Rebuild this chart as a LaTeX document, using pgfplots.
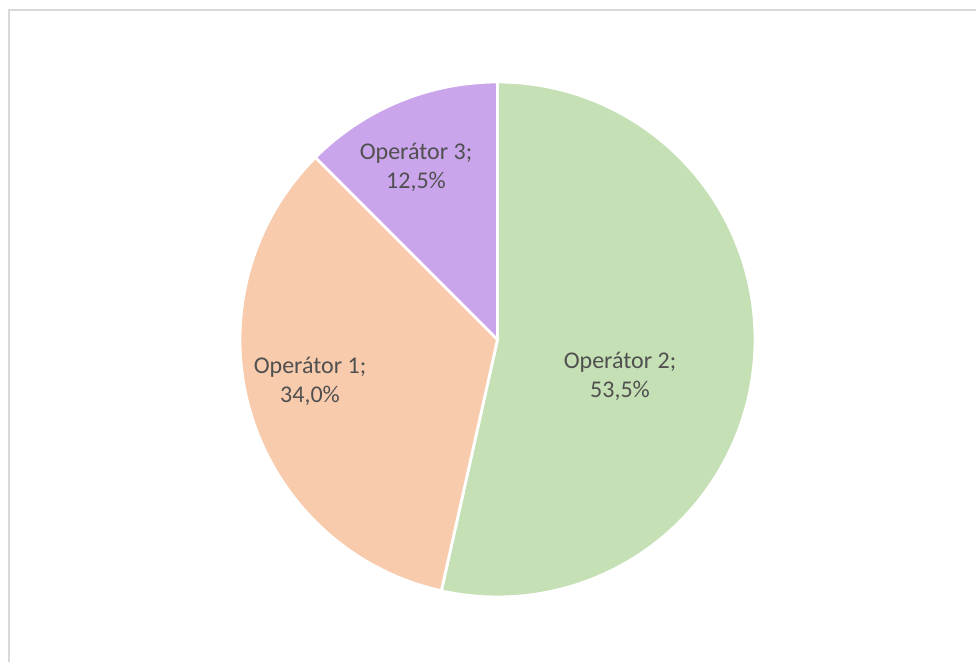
\documentclass[border=0pt]{standalone}
\usepackage{fontspec}
\setmainfont{Carlito}
\usepackage{pgfplots}
\usepackage{pgfplotstable}
\pgfplotsset{compat=1.18}

\definecolor{op2}{HTML}{C5E0B4}
\definecolor{op1}{HTML}{F8CBAD}
\definecolor{op3}{HTML}{CBA5EC}
\definecolor{lbl}{HTML}{505050}
\definecolor{frame}{HTML}{D9D9D9}

% share in percent, label position (pixel grid, y up)
\pgfplotstableread{
name value lx ly
2 53.5 620 285
1 34.0 310 280
3 12.5 416 494
}\piedata

\begin{document}
\begin{tikzpicture}
% cumulative angles, clockwise from the top
\pgfplotstablegetelem{0}{value}\of\piedata \let\va\pgfplotsretval
\pgfplotstablegetelem{1}{value}\of\piedata \let\vb\pgfplotsretval
\pgfplotstablegetelem{2}{value}\of\piedata \let\vc\pgfplotsretval
\pgfmathsetmacro\aA{90}
\pgfmathsetmacro\aB{\aA-3.6*\va}
\pgfmathsetmacro\aC{\aB-3.6*\vb}
\pgfmathsetmacro\aD{\aC-3.6*\vc}
\def\cx{497.5}
\def\cy{321.5}
\def\R{257.5}
\begin{axis}[
    x=0.5pt, y=0.5pt,
    xmin=0, xmax=976, ymin=0, ymax=661,
    hide axis,
    clip=true,
]
\addplot[draw=none] coordinates {(0,0) (976,661)};
\draw[frame, line width=1.2pt] (axis cs:9,-20) -- (axis cs:9,651) -- (axis cs:1000,651);
\foreach \s/\e/\c in {\aA/\aB/op2, \aB/\aC/op1, \aC/\aD/op3}{
  \edef\temp{\noexpand\filldraw[fill=\c, draw=white, line width=1.4pt, line join=round]
    (axis cs:\cx,\cy) -- (axis cs:{\cx+\R*cos(\s)},{\cy+\R*sin(\s)})
    arc[start angle=\s, end angle=\e, radius=\R*0.5pt] -- cycle;}
  \temp
}
\pgfplotstableforeachcolumnelement{name}\of\piedata\as\nm{%
  \pgfplotstablegetelem{\pgfplotstablerow}{value}\of\piedata \let\vv\pgfplotsretval
  \pgfplotstablegetelem{\pgfplotstablerow}{lx}\of\piedata \let\lx\pgfplotsretval
  \pgfplotstablegetelem{\pgfplotstablerow}{ly}\of\piedata \let\ly\pgfplotsretval
  \pgfmathprintnumberto[fixed, fixed zerofill, precision=1, use comma, assume math mode=true]{\vv}\vtxt
  \edef\temp{\noexpand\node[text=lbl, align=center, font=\noexpand\fontsize{12}{14.5}\noexpand\selectfont]
    at (axis cs:\lx,\ly) {Operátor \nm;\noexpand\\\vtxt\noexpand\%};}
  \temp
}
\end{axis}
\end{tikzpicture}
\end{document}
